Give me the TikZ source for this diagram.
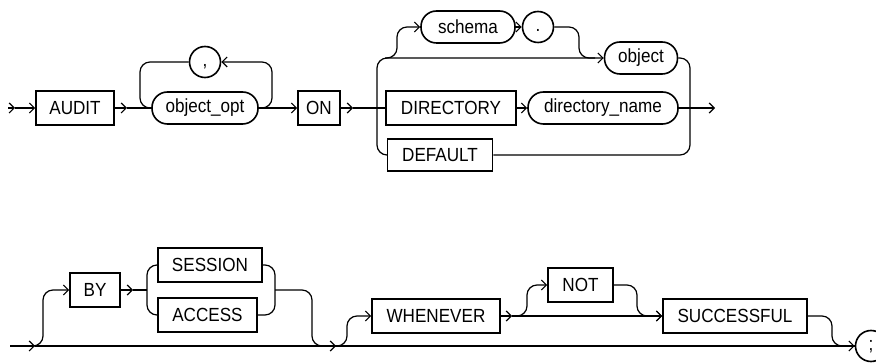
\documentclass[tikz,border=0pt]{standalone}
\usepackage{fontspec}
\setmainfont[FakeStretch=0.9]{Liberation Sans}
\usetikzlibrary{arrows.meta}
\tikzset{
  lbl/.style={font=\fontsize{19}{22}\selectfont},
  kw/.style={lbl, draw, rectangle, line width=1.6pt, minimum height=34pt, inner sep=0pt},
  term/.style={lbl, draw, rectangle, rounded corners=15.5pt, line width=1.6pt, minimum height=32pt, inner sep=0pt},
  circ/.style={lbl, draw, circle, minimum size=31pt, inner sep=0pt, line width=1.6pt, text height=13.5pt, text depth=4pt},
  conn/.style={line width=1.2pt, rounded corners=10pt},
  arr/.style={conn, -{Straight Barb[length=5pt,width=10pt]}}
}
\begin{document}
\begin{tikzpicture}[x=1pt,y=-1pt]
\useasboundingbox (0,0) rectangle (876,363);
% ---------- top row ----------
\node[kw, minimum width=78pt] (audit) at (75,108) {AUDIT};
\node[term, minimum width=106pt] (objopt) at (205,108) {object\_opt};
\node[circ] (comma) at (205,62) {,};
\node[kw, minimum width=42pt] (on) at (319,108) {ON};
\node[term, minimum width=94pt] (schema) at (468,27) {schema};
\node[circ] (dot) at (538,27) {.};
\node[term, minimum width=73pt] (object) at (641,58) {object};
\node[kw, minimum width=130pt] (directory) at (451,108) {DIRECTORY};
\node[term, minimum width=150pt] (dirname) at (603,108) {directory\_name};
\node[kw, minimum width=105pt, minimum height=32pt] (default) at (440,155) {DEFAULT};

\coordinate (s0) at (8,108);
\coordinate (s1) at (15,108);
\coordinate (j1) at (127,108);
\coordinate (j2) at (353,108);
\coordinate (exit1) at (715,108);

\draw[arr] (s0) -- (s1);
\draw[arr] (s1) -- (audit.west);
\draw[arr] (audit.east) -- (j1);
\draw[conn] (j1) -- (objopt.west);
\draw[arr] (objopt.east) -- (on.west);
\draw[arr] (objopt.east) -- (272,108) -- (272,62) -- (comma.east);
\draw[conn] (comma.west) -- (140,62) -- (140,108) -- (objopt.west);
\draw[arr] (on.east) -- (j2);
\draw[conn] (j2) -- (directory.west);
\draw[arr] (default.west) -- (377,155) -- (377,58) -- (object.west);
\draw[arr] (385,58) -- (397,58) -- (397,27) -- (schema.west);
\draw[arr] (schema.east) -- (dot.west);
\draw[conn] (dot.east) -- (579,27) -- (579,58) -- (595,58);
\draw[arr] (directory.east) -- (dirname.west);
\draw[arr] (dirname.east) -- (exit1);
\draw[conn] (object.east) -- (690,58) -- (690,155) -- (default.east);

% ---------- bottom row ----------
\node[kw, minimum width=50pt] (by) at (95,290) {BY};
\node[kw, minimum width=104pt] (session) at (210,265) {SESSION};
\node[kw, minimum width=99pt] (access) at (207.5,315) {ACCESS};
\node[kw, minimum width=128pt] (whenever) at (436,316) {WHENEVER};
\node[kw, minimum width=65pt] (not) at (580.5,285) {NOT};
\node[kw, minimum width=144pt] (successful) at (735,316) {SUCCESSFUL};
\node[circ] (semi) at (871,346) {;};

\coordinate (b0) at (10,346);
\coordinate (b1) at (35,346);
\coordinate (j3) at (133,290);
\coordinate (j4) at (336,346);
\coordinate (j5) at (512,316);

\draw[arr] (b0) -- (b1);
\draw[conn] (b1) -- (semi.west);
\draw[arr] (b1) -- (43,346) -- (43,290) -- (by.west);
\draw[arr] (by.east) -- (j3);
\draw[conn] (j3) -- (147,290);
\draw[conn] (session.west) -- (147,265) -- (147,315) -- (access.west);
\draw[conn] (session.east) -- (275,265) -- (275,315) -- (access.east);
\draw[arr] (275,290) -- (312,290) -- (312,346) -- (j4);
\draw[arr] (j4) -- (347,346) -- (347,316) -- (whenever.west);
\draw[arr] (whenever.east) -- (j5);
\draw[arr] (j5) -- (successful.west);
\draw[arr] (j5) -- (527,316) -- (527,285) -- (not.west);
\draw[arr] (not.east) -- (637,285) -- (637,316) -- (successful.west);
\draw[arr] (successful.east) -- (832,316) -- (832,346) -- (semi.west);
\end{tikzpicture}
\end{document}
